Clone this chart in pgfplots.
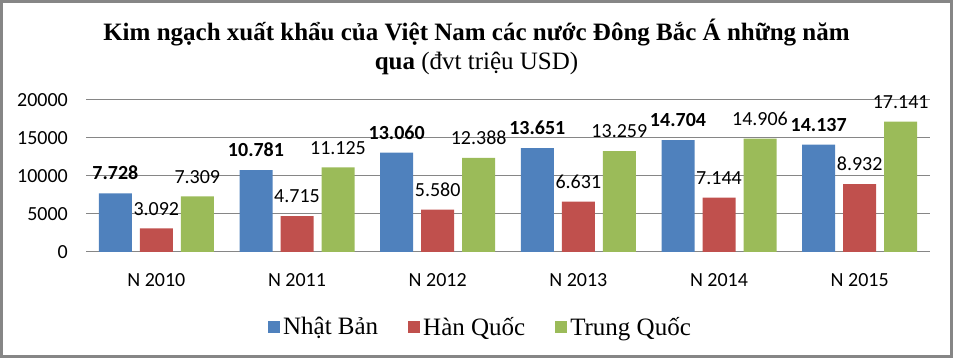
\documentclass[border=0pt]{standalone}
\usepackage{pgfplots}
\pgfplotsset{compat=1.18}
\usepackage{fontspec}
\setmainfont{Liberation Serif}
\newfontfamily\calibri{Carlito}
\definecolor{cblue}{HTML}{4F81BD}
\definecolor{cred}{HTML}{C0504D}
\definecolor{cgreen}{HTML}{9BBB59}
\definecolor{gridgray}{HTML}{868686}
\definecolor{bordergray}{HTML}{868686}
\begin{document}
\begin{tikzpicture}[x=1pt,y=1pt]
\useasboundingbox (0,0) rectangle (953,358);
\draw[color=bordergray, line width=3pt] (1.5,1.5) rectangle (951.5,356.5);
\node[align=center, font=\fontsize{25}{29}\selectfont] at (476.5,311) {\textbf{Kim ngạch xuất khẩu của Việt Nam các nước Đông Bắc Á những năm}\\\textbf{qua} (đvt triệu USD)};
\begin{axis}[
  at={(86pt,106pt)}, anchor=south west,
  scale only axis, width=844pt, height=152pt,
  ybar=8pt, bar width=33pt,
  xmin=-0.5, xmax=5.5, ymin=0, ymax=20000,
  xtick={0,1,2,3,4,5},
  xticklabels={N 2010,N 2011,N 2012,N 2013,N 2014,N 2015},
  ytick={0,5000,10000,15000,20000},
  scaled y ticks=false,
  ymajorgrids, grid style={color=gridgray, line width=1pt},
  axis line style={draw=none}, major tick length=0pt,
  tick label style={font=\calibri\fontsize{20}{24}\selectfont},
  yticklabel style={/pgf/number format/1000 sep={}, /pgf/number format/assume math mode=true, inner sep=0pt, xshift=-18pt},
  xticklabel style={inner sep=0pt, yshift=-21pt},
  clip=false,
  nodes near coords={\pgfmathprintnumber[1000 sep={.},assume math mode=true]{\pgfplotspointmeta}},
  every node near coord/.append style={font=\calibri\fontsize{20}{24}\selectfont, inner sep=0pt, anchor=south, yshift=13pt, text=black},
  legend columns=-1,
  legend style={at={(0.468,-0.493)}, anchor=center, draw=none, fill=none,
    font=\fontsize{25}{30}\selectfont, /tikz/every even column/.append style={column sep=27pt},
    nodes={inner sep=3pt}},
]
\addplot[fill=cblue, draw=none, every node near coord/.append style={font=\calibri\bfseries\fontsize{20}{24}\selectfont}, legend image code/.code={\fill[cblue] (0pt,-6pt) rectangle (12pt,6pt);}]
  coordinates {(0,7728) (1,10781) (2,13060) (3,13651) (4,14704) (5,14137)};
\addplot[fill=cred, draw=none, legend image code/.code={\fill[cred] (0pt,-6pt) rectangle (12pt,6pt);}]
  coordinates {(0,3092) (1,4715) (2,5580) (3,6631) (4,7144) (5,8932)};
\addplot[fill=cgreen, draw=none, legend image code/.code={\fill[cgreen] (0pt,-6pt) rectangle (12pt,6pt);}]
  coordinates {(0,7309) (1,11125) (2,12388) (3,13259) (4,14906) (5,17141)};
\legend{Nhật Bản,Hàn Quốc,Trung Quốc}
\end{axis}
\end{tikzpicture}
\end{document}
